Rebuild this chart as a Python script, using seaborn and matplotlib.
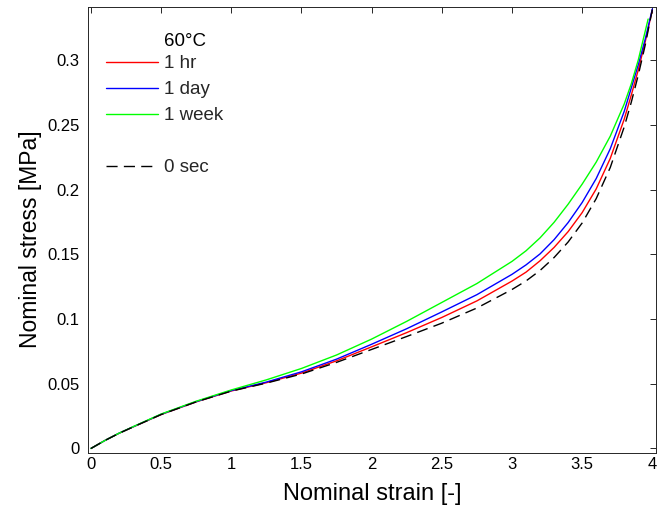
import matplotlib
matplotlib.use("Agg")
import matplotlib.pyplot as plt
import seaborn as sns
import pandas as pd
from matplotlib.lines import Line2D

# ---- data ----
strain_0sec = [0, 0.1, 0.2, 0.3, 0.5, 0.75, 1.0, 1.25, 1.5, 1.75, 2.0, 2.25, 2.5, 2.75,
               3.0, 3.1, 3.2, 3.3, 3.4, 3.5, 3.6, 3.7, 3.8, 3.85, 3.9, 3.95, 4.0]
stress_0sec = [0, 0.0062, 0.0117, 0.0166, 0.0262, 0.036, 0.0443, 0.0505, 0.0575, 0.0665,
               0.0765, 0.0865, 0.0968, 0.1085, 0.1228, 0.1294, 0.1375, 0.1475, 0.1595, 0.1742,
               0.1930, 0.2170, 0.2485, 0.2675, 0.2885, 0.3120, 0.339]

strain_1hr = [0, 0.1, 0.2, 0.3, 0.5, 0.75, 1.0, 1.25, 1.5, 1.75, 2.0, 2.25, 2.5, 2.75,
              3.0, 3.1, 3.2, 3.3, 3.4, 3.5, 3.6, 3.7, 3.8, 3.85, 3.9, 3.95, 4.0]
stress_1hr = [0, 0.0062, 0.0117, 0.0166, 0.0262, 0.036, 0.0444, 0.0508, 0.0582, 0.0677,
              0.0785, 0.0895, 0.1012, 0.114, 0.1293, 0.1362, 0.145, 0.1553, 0.1675, 0.1822,
              0.2005, 0.224, 0.2545, 0.273, 0.2925, 0.3145, 0.339]

strain_1day = [0, 0.1, 0.2, 0.3, 0.5, 0.75, 1.0, 1.25, 1.5, 1.75, 2.0, 2.25, 2.5, 2.75,
               3.0, 3.1, 3.2, 3.3, 3.4, 3.5, 3.6, 3.7, 3.8, 3.85, 3.9, 3.95, 4.0]
stress_1day = [0, 0.0062, 0.0118, 0.0167, 0.0264, 0.0362, 0.0447, 0.0513, 0.0592, 0.069,
               0.0805, 0.0925, 0.1055, 0.1188, 0.1345, 0.1418, 0.1503, 0.1613, 0.1745, 0.1900,
               0.2085, 0.2315, 0.2605, 0.2785, 0.2965, 0.3165, 0.3395]

strain_1week = [0, 0.1, 0.2, 0.3, 0.5, 0.75, 1.0, 1.25, 1.5, 1.75, 2.0, 2.25, 2.5, 2.75,
                3.0, 3.1, 3.2, 3.3, 3.4, 3.5, 3.6, 3.7, 3.8, 3.85, 3.9, 3.97]
stress_1week = [0, 0.0062, 0.0118, 0.0168, 0.0266, 0.0365, 0.0452, 0.053, 0.0618, 0.0722,
                0.0845, 0.0982, 0.1128, 0.1274, 0.1445, 0.1527, 0.1627, 0.1747, 0.1887, 0.2042,
                0.2212, 0.2412, 0.2662, 0.2817, 0.3002, 0.3317]

series_labels = ["1 hr", "1 day", "1 week"]
series_colors = ["#ff0000", "#0000ff", "#00ff00"]
legend_title = "60\u00b0C"
reference_label = "0 sec"

x_ticks = [0, 0.5, 1, 1.5, 2, 2.5, 3, 3.5, 4]
x_ticklabels = ["0", "0.5", "1", "1.5", "2", "2.5", "3", "3.5", "4"]
y_ticks = [0, 0.05, 0.1, 0.15, 0.2, 0.25, 0.3]
y_ticklabels = ["0", "0.05", "0.1", "0.15", "0.2", "0.25", "0.3"]

# ---- figure ----
sns.set_theme(style="white")
plt.rcParams["font.family"] = ["Liberation Sans", "DejaVu Sans"]

fig = plt.figure(figsize=(6.7, 5.17), dpi=100)
ax = fig.add_axes([88 / 670, 1 - 453 / 517, (656 - 88) / 670, (453 - 7) / 517])

DASH = (8, 4.5)
curves = [(strain_1hr, stress_1hr), (strain_1day, stress_1day), (strain_1week, stress_1week)]
handles = []
for (xs, ys), lab, col in zip(curves, series_labels, series_colors):
    df = pd.DataFrame({"strain": xs, "stress": ys})
    sns.lineplot(data=df, x="strain", y="stress", color=col, linewidth=1.0, ax=ax,
                 sort=False, estimator=None)
    handles.append(Line2D([], [], color=col, linewidth=1.0))

df0 = pd.DataFrame({"strain": strain_0sec, "stress": stress_0sec})
sns.lineplot(data=df0, x="strain", y="stress", color="black", linewidth=1.0, ax=ax,
             sort=False, estimator=None)
ax.lines[-1].set_dashes(DASH)
h0 = Line2D([], [], color="black", linewidth=1.0, dashes=DASH)

blank = Line2D([], [], linestyle="none")
leg_handles = handles + [blank, h0]
leg_labels = series_labels + [" ", reference_label]
ax.legend(leg_handles, leg_labels, loc="upper left", bbox_to_anchor=(0.032, 0.892),
          frameon=False, fontsize=13.5, handlelength=2.75, handletextpad=0.32,
          labelspacing=0.475, borderpad=0, borderaxespad=0)
ax.text((164 - 88) / 568, (453 - 41) / 446, legend_title, transform=ax.transAxes,
        ha="left", va="center", fontsize=13.5, color="black")

ax.set_xlim(-0.021, 4.026)
ax.set_ylim(-0.0035, 0.341)
ax.set_xticks(x_ticks)
ax.set_xticklabels(x_ticklabels)
ax.set_yticks(y_ticks)
ax.set_yticklabels(y_ticklabels)

ax.set_xlabel("Nominal strain [-]", fontsize=17, color="black", labelpad=8)
ax.set_ylabel("Nominal stress [MPa]", fontsize=16.5, color="black", labelpad=4, y=0.48)

for s in ax.spines.values():
    s.set_visible(True)
    s.set_color("#262626")
    s.set_linewidth(0.7)
ax.tick_params(direction="in", top=True, right=True, length=4, width=0.7,
               color="#262626", labelcolor="black", labelsize=12)
ax.tick_params(axis="x", pad=3)
ax.tick_params(axis="y", pad=6)

fig.savefig("out.png", dpi=100)
